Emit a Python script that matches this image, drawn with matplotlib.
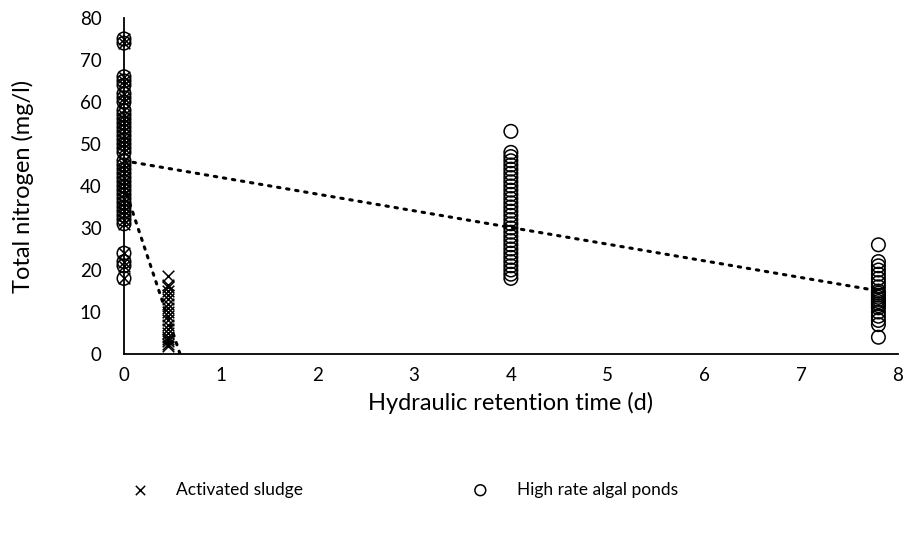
import numpy as np
import matplotlib
matplotlib.use('Agg')
import matplotlib.pyplot as plt

plt.rcParams['font.family'] = ['Lato', 'DejaVu Sans']

# influent samples (HRT = 0), shared by both systems
INFLUENT_TN = [75, 74, 66, 65, 64, 62, 61, 60, 58, 57, 56, 55, 54, 53, 52, 51,
               50, 49, 48, 46, 45, 44, 43, 42, 41, 40, 39, 38, 37, 36, 35, 34,
               33, 32, 31, 24, 22, 21, 18]

AS_HRT = 0.45
AS_EFFLUENT_TN = [18.5, 16.5, 16, 15, 14, 13, 12, 11, 10, 9, 8, 7, 6, 5, 4,
                  3.5, 3, 2.5, 2]

HRAP_HRT = [4.0, 7.8]
HRAP_EFFLUENT_TN = [
    [53, 48, 47, 46, 45, 44, 43, 42, 41, 40, 39, 38, 37, 36, 35, 34, 33, 32,
     31, 30, 29, 28, 27, 26, 25, 24, 23, 22, 21, 20, 19, 18],
    [26, 22, 21, 20, 19, 18, 17, 16, 15, 14.5, 14, 13.5, 13, 12.5, 12, 11.5,
     11, 10, 9, 8, 7, 4],
]

# linear trend lines as shown on the chart: (intercept, slope, x_end)
AS_TREND = (40.0, -69.0, 0.58)
HRAP_TREND = (46.0, -3.97, 7.8)

fig = plt.figure(figsize=(9.05, 5.43), dpi=100)
ax = fig.add_axes([0.137, 0.348, 0.855, 0.619])

as_x = [0.0] * len(INFLUENT_TN) + [AS_HRT] * len(AS_EFFLUENT_TN)
as_y = INFLUENT_TN + AS_EFFLUENT_TN
hr_x = [0.0] * len(INFLUENT_TN)
hr_y = list(INFLUENT_TN)
for h, vals in zip(HRAP_HRT, HRAP_EFFLUENT_TN):
    hr_x += [h] * len(vals)
    hr_y += vals

ax.scatter(as_x, as_y, marker='x', s=70, color='black', linewidths=1.1,
           label='Activated sludge', zorder=3, clip_on=False)
ax.scatter(hr_x, hr_y, marker='o', s=95, facecolors='none',
           edgecolors='black', linewidths=1.1,
           label='High rate algal ponds', zorder=3, clip_on=False)

for b, m, xe in (AS_TREND, HRAP_TREND):
    xs = np.array([0.0, xe])
    ax.plot(xs, b + m * xs, color='black', linestyle=(0, (0.8, 2.2)),
            linewidth=2.2, dash_capstyle='round', zorder=4)

ax.set_xlim(0, 8)
ax.set_ylim(0, 80)
ax.set_xticks(range(0, 9))
ax.set_yticks(range(0, 81, 10))
ax.tick_params(length=0, labelsize=13.5)
ax.tick_params(axis='x', pad=9)
ax.tick_params(axis='y', pad=16)
for s in ('top', 'right'):
    ax.spines[s].set_visible(False)
for s in ('left', 'bottom'):
    ax.spines[s].set_linewidth(1.3)
ax.set_xlabel('Hydraulic retention time (d)', fontsize=17, labelpad=6)
ax.set_ylabel('Total nitrogen (mg/l)', fontsize=17, labelpad=33)

fig.legend(loc='center left', bbox_to_anchor=(0.118, 0.098), ncol=2,
           frameon=False, fontsize=12.5, columnspacing=9.2,
           handletextpad=1.1, markerscale=0.8)

fig.savefig('out.png', dpi=100, facecolor='white')
